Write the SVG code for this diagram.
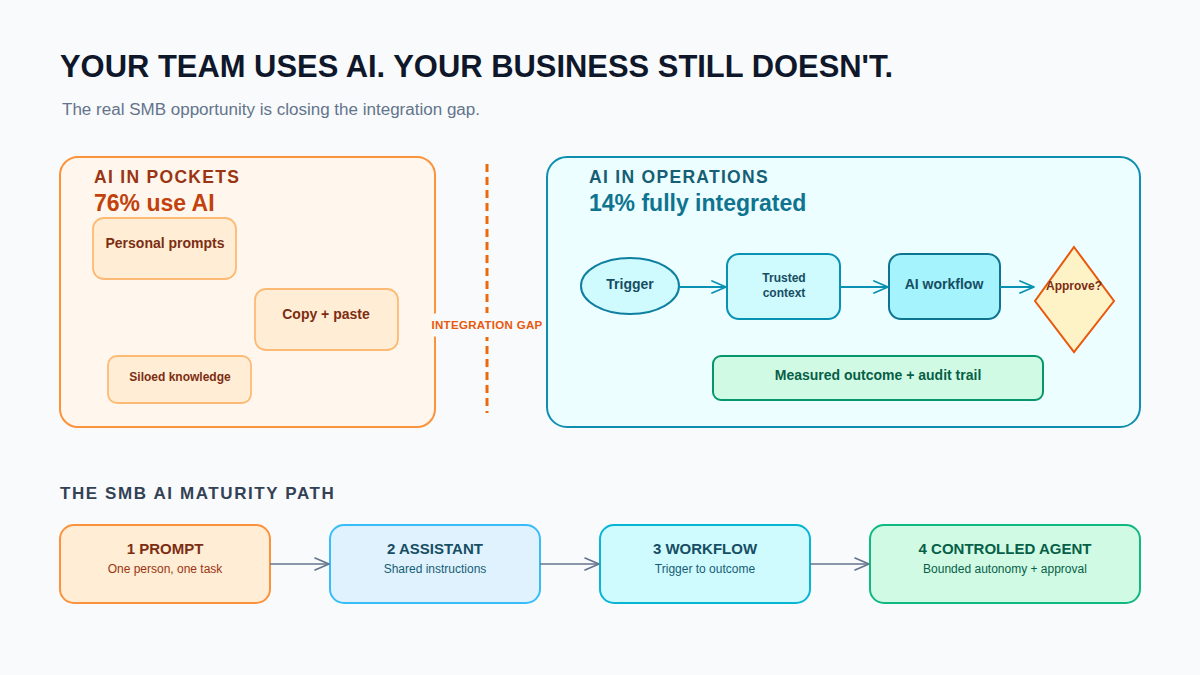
<svg xmlns="http://www.w3.org/2000/svg" width="1200" height="675" viewBox="0 0 1200 675">
<defs>
<marker id="arrC" markerWidth="16" markerHeight="14" refX="15" refY="7" orient="auto" markerUnits="userSpaceOnUse"><path d="M1,1 L15,7 L1,13" fill="none" stroke="#0891b2" stroke-width="1.8" stroke-linecap="round" stroke-linejoin="round"/></marker>
<marker id="arrG" markerWidth="16" markerHeight="14" refX="15" refY="7" orient="auto" markerUnits="userSpaceOnUse"><path d="M1,1 L15,7 L1,13" fill="none" stroke="#64748b" stroke-width="1.6" stroke-linecap="round" stroke-linejoin="round"/></marker>
</defs>
<style>
text{font-family:"Liberation Sans",Arial,sans-serif}
.b{font-weight:bold}
.mid{text-anchor:middle}
.pk{fill:#ffedd5;stroke:#fdba74;stroke-width:1.8}
.pkt{fill:#7c2d12;font-weight:bold}
.ct{fill:#164e63;font-weight:bold;text-anchor:middle}
.st{font-size:15px;font-weight:bold;text-anchor:middle}
.ss{font-size:12px;text-anchor:middle}
</style>
<rect width="1200" height="675" fill="#f8fafc"/>

<g id="header">
<text x="60" y="77" class="b" font-size="32" fill="#0f172a" textLength="833" lengthAdjust="spacingAndGlyphs">YOUR TEAM USES AI. YOUR BUSINESS STILL DOESN'T.</text>
<text x="62" y="115" font-size="16" fill="#64748b" textLength="418" lengthAdjust="spacingAndGlyphs">The real SMB opportunity is closing the integration gap.</text>
</g>

<g id="pockets">
<rect x="60" y="157" width="375" height="270" rx="18" fill="#fff7ed" stroke="#fb923c" stroke-width="2"/>
<text x="94" y="183" class="b" font-size="17.5" fill="#9a3412" letter-spacing="1.3">AI IN POCKETS</text>
<text x="94" y="211" class="b" font-size="23" fill="#c2410c">76% use AI</text>
</g>
<g id="personal-prompts">
<rect x="93" y="218" width="143" height="61" rx="11" class="pk"/>
<text x="165" y="248" font-size="14" class="pkt mid">Personal prompts</text>
</g>
<g id="copy-paste">
<rect x="255" y="289" width="143" height="61" rx="11" class="pk"/>
<text x="326" y="319" font-size="14" class="pkt mid">Copy + paste</text>
</g>
<g id="siloed">
<rect x="108" y="356" width="143" height="47" rx="9" class="pk"/>
<text x="180" y="381" font-size="12" class="pkt mid">Siloed knowledge</text>
</g>

<g id="gap">
<line x1="487" y1="164" x2="487" y2="413" stroke="#ea6a0c" stroke-width="3" stroke-dasharray="8 5"/>
<rect x="431" y="313" width="112" height="24" rx="6" fill="#f8fafc"/>
<text x="487" y="329" class="b mid" font-size="11.5" fill="#ea580c" letter-spacing="0.3">INTEGRATION GAP</text>
</g>

<g id="operations">
<rect x="547" y="157" width="593" height="270" rx="20" fill="#ecfeff" stroke="#0e8fb0" stroke-width="2"/>
<text x="589" y="183" class="b" font-size="17.5" fill="#155e75" letter-spacing="1.3">AI IN OPERATIONS</text>
<text x="589" y="211" class="b" font-size="23" fill="#0e7490">14% fully integrated</text>
</g>
<g id="trigger">
<ellipse cx="630" cy="286" rx="49" ry="28" fill="#cffafe" stroke="#0e7fa0" stroke-width="2"/>
<text x="630" y="289" font-size="14" class="ct">Trigger</text>
</g>
<g id="trusted">
<rect x="727" y="254" width="113" height="65" rx="12" fill="#cffafe" stroke="#0891b2" stroke-width="2"/>
<text x="784" y="282" font-size="12" class="ct">Trusted</text>
<text x="784" y="297" font-size="12" class="ct">context</text>
</g>
<g id="ai-workflow">
<rect x="889" y="254" width="111" height="65" rx="12" fill="#a5f3fc" stroke="#0e7490" stroke-width="2"/>
<text x="944" y="289" font-size="14" class="ct">AI workflow</text>
</g>
<g id="approve">
<polygon points="1074,247 1114,301 1074,352 1035,301" fill="#fef3c7" stroke="#ea580c" stroke-width="2"/>
<text x="1074" y="290" class="b mid" font-size="12" fill="#7c2d12">Approve?</text>
</g>
<g id="measured">
<rect x="713" y="356" width="330" height="44" rx="8" fill="#d1fae5" stroke="#059669" stroke-width="2"/>
<text x="878" y="380" class="b mid" font-size="14" fill="#065f46">Measured outcome + audit trail</text>
</g>

<g id="path-title">
<text x="60" y="499" class="b" font-size="17" fill="#334155" letter-spacing="1.6">THE SMB AI MATURITY PATH</text>
</g>
<g id="step1">
<rect x="60" y="525" width="210" height="78" rx="14" fill="#ffedd5" stroke="#fb923c" stroke-width="2"/>
<text x="165" y="554" class="st" fill="#7c2d12">1 PROMPT</text>
<text x="165" y="573" class="ss" fill="#9a3412">One person, one task</text>
</g>
<g id="step2">
<rect x="330" y="525" width="210" height="78" rx="14" fill="#e0f2fe" stroke="#38bdf8" stroke-width="2"/>
<text x="435" y="554" class="st" fill="#164e63">2 ASSISTANT</text>
<text x="435" y="573" class="ss" fill="#155e75">Shared instructions</text>
</g>
<g id="step3">
<rect x="600" y="525" width="210" height="78" rx="14" fill="#cffafe" stroke="#06b6d4" stroke-width="2"/>
<text x="705" y="554" class="st" fill="#164e63">3 WORKFLOW</text>
<text x="705" y="573" class="ss" fill="#155e75">Trigger to outcome</text>
</g>
<g id="step4">
<rect x="870" y="525" width="270" height="78" rx="14" fill="#d1fae5" stroke="#10b981" stroke-width="2"/>
<text x="1005" y="554" class="st" fill="#065f46">4 CONTROLLED AGENT</text>
<text x="1005" y="573" class="ss" fill="#065f46">Bounded autonomy + approval</text>
</g>

<g id="connectors" fill="none">
<line x1="679" y1="287" x2="726" y2="287" stroke="#0891b2" stroke-width="2" marker-end="url(#arrC)"/>
<line x1="840" y1="287" x2="888" y2="287" stroke="#0891b2" stroke-width="2" marker-end="url(#arrC)"/>
<line x1="1000" y1="287" x2="1034" y2="287" stroke="#0891b2" stroke-width="2" marker-end="url(#arrC)"/>
<line x1="270" y1="564" x2="329" y2="564" stroke="#64748b" stroke-width="1.6" marker-end="url(#arrG)"/>
<line x1="540" y1="564" x2="599" y2="564" stroke="#64748b" stroke-width="1.6" marker-end="url(#arrG)"/>
<line x1="810" y1="564" x2="869" y2="564" stroke="#64748b" stroke-width="1.6" marker-end="url(#arrG)"/>
</g>
</svg>
